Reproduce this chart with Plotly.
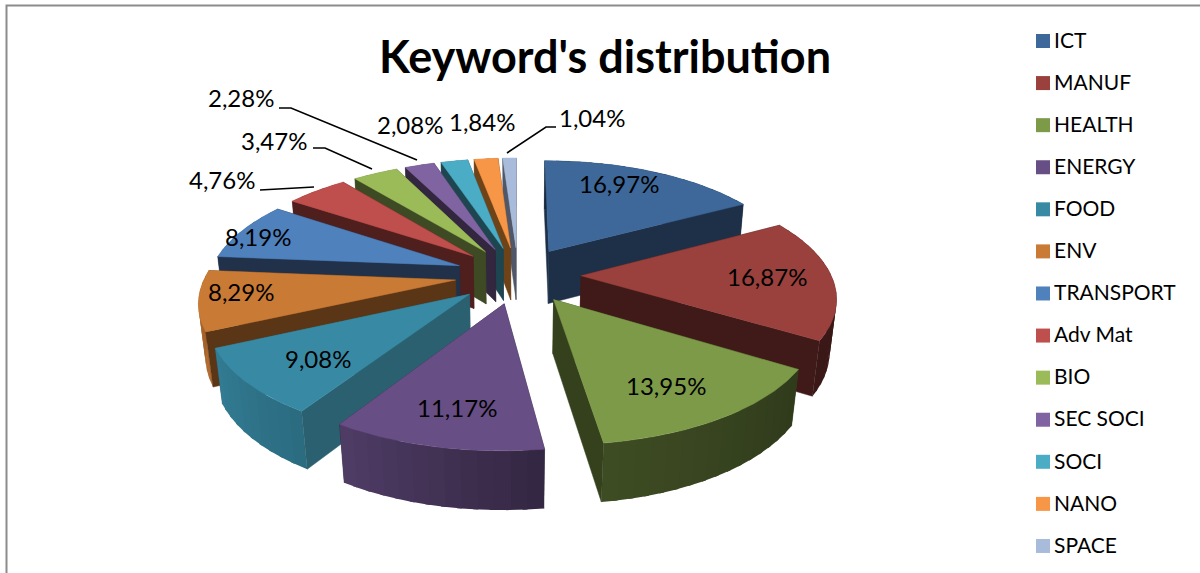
import numpy as np
import plotly.graph_objects as go

# Keyword shares, in percent
categories = ["ICT", "MANUF", "HEALTH", "ENERGY", "FOOD", "ENV", "TRANSPORT",
              "Adv Mat", "BIO", "SEC SOCI", "SOCI", "NANO", "SPACE"]
shares = [16.97, 16.87, 13.95, 11.17, 9.08, 8.29, 8.19, 4.76, 3.47, 2.28, 2.08, 1.84, 1.04]

# Slice colours: top face and flat cut face
top_colors = ["#3D6899", "#9A403D", "#7D9A48", "#674E84", "#388AA4", "#C97A35", "#4F81BD",
              "#BE4F4D", "#9BBB59", "#8064A2", "#4BACC6", "#F79646", "#A9BBDA"]
cut_colors = ["#1E3048", "#401A18", "#35401D", "#33273F", "#2A6070", "#5A3516", "#203149",
              "#4F1F1E", "#3E4A24", "#33273F", "#1E4650", "#6F4318", "#4F5768"]

# Label centres and leader paths, in pixels
label_xy = [(619, 183), (767, 276), (666, 385), (457, 407), (318, 358), (241, 291), (258, 236),
            (222, 179), (274, 140), (241, 97), (410, 124), (482, 121), (592, 117)]
leaders = ["M260,190 L314,187", "M313,148 L325,148 L372,169",
           "M279,108 L291,108 L417,160", "M507,153 L546,127 L556,127"]

# Projection of the tilted, exploded pie
XC, YC = 518.0, 275.0
RADIUS, EXPLODE = 250.0, 63.0
SIN_TILT, PERSP, PERSP_H, WALL = 0.45, 0.00065, 0.022, 53.0

# Key column on the right
KEY_X, KEY_TEXT_X, KEY_TOP, KEY_STEP = 1043.0, 1054.0, 41.0, 42.08


def project(theta, r, h, mid):
    u = r * np.sin(theta) + EXPLODE * np.sin(mid)
    v = r * np.cos(theta) + EXPLODE * np.cos(mid)
    p = 1.0 / (1.0 + PERSP * v)
    q = 1.0 / (1.0 + PERSP * v + PERSP_H * h)
    return XC + u * q, YC - v * SIN_TILT * p + WALL * h * np.sqrt(p)


def shade(color, f):
    rgb = [int(color[i:i + 2], 16) for i in (1, 3, 5)]
    return "rgb({},{},{})".format(*[int(c * f) for c in rgb])


def outer_shade(deg):
    return np.interp(deg, [0, 122, 172, 212, 245, 275, 360],
                     [0.38, 0.38, 0.5, 0.78, 0.9, 0.75, 0.6])


def polygon(xs, ys, color, edge=0.0):
    return go.Scatter(x=list(xs), y=list(ys), mode="lines", fill="toself", fillcolor=color,
                      line=dict(width=edge, color=color), hoverinfo="skip", showlegend=False)


def cut_face(ang, m, color):
    pts = [project(ang, r, h, m) for r, h in ((0, 0), (RADIUS, 0), (RADIUS, 1), (0, 1), (0, 0))]
    return polygon([p[0] for p in pts], [p[1] for p in pts], color, 0.5)


values = np.array(shares)
edges = np.concatenate([[0.0], np.cumsum(values) / values.sum() * 2 * np.pi])
mids = (edges[:-1] + edges[1:]) / 2

fig = go.Figure()

# Paint from the back of the pie to the front; within a slice: hidden cut faces,
# rim, visible cut faces, top
for i in np.argsort(-np.cos(mids)):
    a, b, m = edges[i], edges[i + 1], mids[i]
    start_front = np.sin(a) < -1e-9
    end_front = np.sin(b) > 1e-9
    if not start_front:
        fig.add_trace(cut_face(a, m, cut_colors[i]))
    if not end_front:
        fig.add_trace(cut_face(b, m, cut_colors[i]))

    steps = max(2, int(np.degrees(b - a) / 3))
    grid = np.linspace(a, b, steps + 1)
    width = grid[1] - grid[0]
    for s0 in grid[:-1]:
        # each band runs a little under its neighbour so no seam shows
        s1 = min(s0 + 1.3 * width, b)
        ts = np.linspace(s0, s1, 4)
        xt, yt = project(ts, RADIUS, 0, m)
        xb, yb = project(ts[::-1], RADIUS, 1, m)
        color = shade(top_colors[i], outer_shade(np.degrees(s0 + width / 2)))
        fig.add_trace(polygon(np.r_[xt, xb, xt[0]], np.r_[yt, yb, yt[0]], color))

    if start_front:
        fig.add_trace(cut_face(a, m, cut_colors[i]))
    if end_front:
        fig.add_trace(cut_face(b, m, cut_colors[i]))

    ts = np.linspace(a, b, 60)
    xa, ya = project(ts, RADIUS, 0, m)
    x0, y0 = project(a, 0, 0, m)
    fig.add_trace(polygon(np.r_[x0, xa, x0], np.r_[y0, ya, y0], top_colors[i], 0.5))

# Colour key: one square and name per category
key_y = [KEY_TOP + KEY_STEP * n for n in range(len(categories))]
fig.add_trace(go.Scatter(x=[KEY_X] * len(categories), y=key_y, mode="markers",
                         marker=dict(symbol="square", size=14, color=top_colors),
                         text=categories, hoverinfo="text", showlegend=False))
fig.add_trace(go.Scatter(x=[KEY_TEXT_X] * len(categories), y=[y + 1.5 for y in key_y], mode="text",
                         text=categories, textposition="middle right",
                         textfont=dict(family="Lato", size=21, color="black"),
                         hoverinfo="skip", showlegend=False))

annotations = [
    dict(x=x, y=y, text=f"{v:.2f}".replace(".", ",") + "%", showarrow=False,
         xanchor="center", yanchor="middle", font=dict(family="Lato", size=24, color="black"))
    for (x, y), v in zip(label_xy, shares)
]

shapes = [dict(type="path", path=p, xref="x", yref="y", line=dict(color="black", width=1.6))
          for p in leaders]
shapes += [
    dict(type="path", path="M6.5,573 L6.5,5.5 L1200,5.5", xref="x", yref="y",
         line=dict(color="#8C8C8C", width=2)),
]

fig.update_layout(
    width=1200, height=573, margin=dict(l=0, r=0, t=0, b=0),
    paper_bgcolor="white", plot_bgcolor="white",
    xaxis=dict(range=[0, 1200], visible=False, fixedrange=True),
    yaxis=dict(range=[573, 0], visible=False, fixedrange=True),
    title=dict(text="<b>Keyword's distribution</b>", x=605 / 1200, y=1 - 57 / 573,
               xanchor="center", yanchor="middle", xref="paper", yref="paper",
               font=dict(family="Lato", size=45, color="black")),
    annotations=annotations, shapes=shapes, showlegend=False,
)

fig.write_html("out.html")
